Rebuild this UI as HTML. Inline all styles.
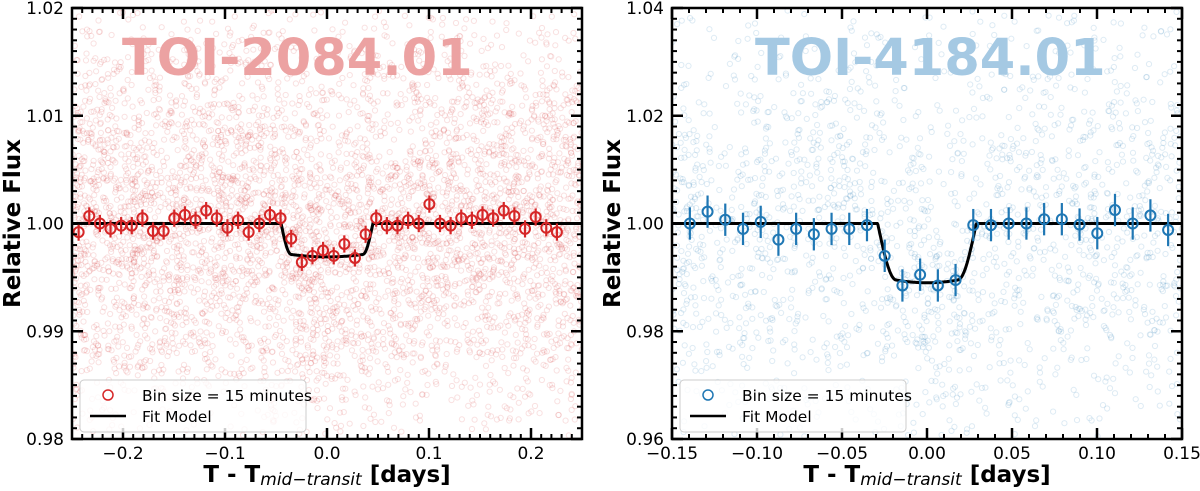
<!DOCTYPE html>
<html><head><meta charset="utf-8"><style>
html,body{margin:0;background:#fff;width:1200px;height:491px;overflow:hidden;}
svg{display:block;font-family:"DejaVu Sans","Liberation Sans",sans-serif;}
</style></head><body>
<svg id="fig" width="1200" height="491" viewBox="0 0 1200 491"></svg>
<script>
// ---- data ----
const leftBinFlux=[0.9992,1.0007,1.0000,0.9995,0.9998,0.9998,1.0005,0.9993,0.9993,1.0005,1.0008,1.0003,1.0012,1.0005,0.9996,1.0003,0.9992,1.0000,1.0008,1.0005,0.9986,0.9964,0.9970,0.9975,0.9970,0.9981,0.9968,0.9990,1.0005,0.9998,0.9998,1.0003,1.0000,1.0018,1.0000,0.9998,1.0005,1.0003,1.0008,1.0005,1.0012,1.0007,0.9995,1.0006,0.9996,0.9992];
const leftBinErr=0.0008;
const rightBinFlux=[1.0000,1.0022,1.0007,0.9990,1.0003,0.9970,0.9990,0.9980,0.9990,0.9990,0.9997,0.9940,0.9885,0.9905,0.9885,0.9895,0.9997,0.9997,1.0000,1.0000,1.0008,1.0008,0.9998,0.9982,1.0025,1.0000,1.0015,0.9988];
const rightBinErr=0.003;
const leftXTicks=[-0.2,-0.1,0.0,0.1,0.2];
const leftYTicks=[0.98,0.99,1.00,1.01,1.02];
const rightXTicks=[-0.15,-0.10,-0.05,0.00,0.05,0.10,0.15];
const rightYTicks=[0.96,0.98,1.00,1.02,1.04];
const leftDepth=0.0031, rightDepth=0.0110;

const NS="http://www.w3.org/2000/svg";
const svg=document.getElementById('fig');
function mk(tag,attrs,parent,text){const e=document.createElementNS(NS,tag);for(const k in attrs)e.setAttribute(k,attrs[k]);if(text!==undefined)e.textContent=text;(parent||svg).appendChild(e);return e;}
let seed=12345;function rnd(){seed=(seed*1103515245+12345)%2147483648;return seed/2147483648;}
function gauss(){let u=rnd()||1e-9,v=rnd();return Math.sqrt(-2*Math.log(u))*Math.cos(2*Math.PI*v);}

function panel(o){
  const g=mk('g',{});
  
  
  const X=v=>o.x0+(v-o.xmin)/(o.xmax-o.xmin)*(o.x1-o.x0);
  const Y=v=>o.y1-(v-o.ymin)/(o.ymax-o.ymin)*(o.y1-o.y0);
  const model=t=>{const a=Math.abs(t);if(a>=o.t2)return 1;
    const inner=u=>o.depth*(1-0.12*(u/o.t2)*(u/o.t2));
    if(a<=o.t1)return 1-inner(a);const f=(o.t2-a)/(o.t2-o.t1);return 1-inner(o.t1)*Math.sin(f*Math.PI/2);};
  const clip='c'+o.name;
  const d=mk('defs',{},g);const cp=mk('clipPath',{id:clip},d);mk('rect',{x:o.x0,y:o.y0,width:o.x1-o.x0,height:o.y1-o.y0},cp);
  const pg=mk('g',{'clip-path':'url(#'+clip+')'},g);
  // raw scatter (noise texture)
  const raw=mk('g',{fill:'none',stroke:o.color,'stroke-opacity':o.rawOp,'stroke-width':1},pg);
  
  
  for(let i=0;i<o.nraw;i++){const t=o.xmin+rnd()*(o.xmax-o.xmin);const f=model(t)+gauss()*o.noise;
    const cy=Y(f);if(cy<o.y0+2||cy>o.y1-2)continue;
    mk('circle',{cx:X(t).toFixed(1),cy:cy.toFixed(1),r:2.6},raw);}
  // title
  const tt=mk('text',{x:o.titleX,y:75,'font-size':51,'font-weight':'bold',fill:o.titleColor},g,o.title);
  
  
  // model
  let p='';for(let i=0;i<=800;i++){const t=o.xmin+i/800*(o.xmax-o.xmin);p+=(i?'L':'M')+X(t).toFixed(1)+','+Y(model(t)).toFixed(1);}
  const ml=mk('path',{d:p,fill:'none',stroke:'#000','stroke-width':3},pg);
  
  
  // bins
  o.bins.forEach((f,i)=>{const t=o.bstart+i*o.bstep;
    const bg=mk('g',{},pg);
    
    
    mk('line',{x1:X(t),x2:X(t),y1:Y(f-o.err),y2:Y(f+o.err),stroke:o.color,'stroke-width':2.2},bg);
    mk('circle',{cx:X(t),cy:Y(f),r:5,fill:'none',stroke:o.color,'stroke-width':2},bg);});
  // frame
  mk('rect',{x:o.x0,y:o.y0,width:o.x1-o.x0,height:o.y1-o.y0,fill:'none',stroke:'#000','stroke-width':2.5},g);
  // ticks
  const tk=mk('g',{stroke:'#000'},g);
  o.xt.forEach(v=>{const x=X(v);mk('line',{x1:x,x2:x,y1:o.y1,y2:o.y1-11,'stroke-width':2.5},tk);mk('line',{x1:x,x2:x,y1:o.y0,y2:o.y0+11,'stroke-width':2.5},tk);
    const l=mk('text',{x:x,y:o.y1+20,'font-size':17,'text-anchor':'middle',stroke:'none'},g,(v<0?'\u2212':'')+Math.abs(v).toFixed(o.xdec));
    });
  for(let v=o.xmin;v<=o.xmax+1e-9;v+=o.xminor){const x=X(v);mk('line',{x1:x,x2:x,y1:o.y1,y2:o.y1-5,'stroke-width':2},tk);mk('line',{x1:x,x2:x,y1:o.y0,y2:o.y0+5,'stroke-width':2},tk);}
  o.yt.forEach(v=>{const y=Y(v);mk('line',{x1:o.x0,x2:o.x0+11,y1:y,y2:y,'stroke-width':2.5},tk);mk('line',{x1:o.x1,x2:o.x1-11,y1:y,y2:y,'stroke-width':2.5},tk);
    const l=mk('text',{x:o.x0-8,y:y+6,'font-size':17,'text-anchor':'end',stroke:'none'},g,v.toFixed(2));
    });
  for(let v=o.ymin;v<=o.ymax+1e-9;v+=o.yminor){const y=Y(v);mk('line',{x1:o.x0,x2:o.x0+5,y1:y,y2:y,'stroke-width':2},tk);mk('line',{x1:o.x1,x2:o.x1-5,y1:y,y2:y,'stroke-width':2},tk);}
  // axis titles
  const yl=mk('text',{x:0,y:0,'font-size':23,'font-weight':'bold','text-anchor':'middle',transform:`translate(${o.x0-52},${(o.y0+o.y1)/2}) rotate(-90)`},g,'Relative Flux');
  
  const xl=mk('text',{x:(o.x0+o.x1)/2,y:482,'font-size':23,'font-weight':'bold','text-anchor':'middle'},g);
  
  mk('tspan',{},xl,'T - T');mk('tspan',{'font-size':17,'font-style':'italic','font-weight':'normal',dy:3},xl,'mid\u2212transit');mk('tspan',{dy:-3},xl,' [days]');
  // legend
  const lg=mk('g',{},g);
  
  mk('rect',{x:o.x0+8,y:380,width:226,height:52,rx:4,fill:'#fff','fill-opacity':0.8,stroke:'#ccc'},lg);
  mk('circle',{cx:o.x0+36,cy:395,r:5,fill:'none',stroke:o.color,'stroke-width':1.5},lg);
  mk('text',{x:o.x0+70,y:401,'font-size':15.5},lg,'Bin size = 15 minutes');
  mk('line',{x1:o.x0+18,x2:o.x0+54,y1:416,y2:416,stroke:'#000','stroke-width':2.5},lg);
  mk('text',{x:o.x0+70,y:422,'font-size':15.5},lg,'Fit Model');
}
panel({name:'left-panel',x0:72,x1:582,y0:8,y1:439,xmin:-0.25,xmax:0.25,ymin:0.98,ymax:1.02,color:'#d62728',titleColor:'#eca2a2',title:'TOI-2084.01',titleX:122,
  depth:leftDepth,t1:0.035,t2:0.045,noise:0.01,nraw:5000,rawOp:0.14,bins:leftBinFlux,err:leftBinErr,bstart:-0.2435,bstep:0.01042,
  xt:leftXTicks,yt:leftYTicks,xminor:0.01,yminor:0.001,xdec:1});
panel({name:'right-panel',x0:672,x1:1182,y0:8,y1:439,xmin:-0.15,xmax:0.15,ymin:0.96,ymax:1.04,color:'#1f77b4',titleColor:'#a5c9e3',title:'TOI-4184.01',titleX:755,
  depth:rightDepth,t1:0.018,t2:0.029,noise:0.02,nraw:2000,rawOp:0.15,bins:rightBinFlux,err:rightBinErr,bstart:-0.1395,bstep:0.01042,
  xt:rightXTicks,yt:rightYTicks,xminor:0.01,yminor:0.002,xdec:2});
</script>
</body></html>
